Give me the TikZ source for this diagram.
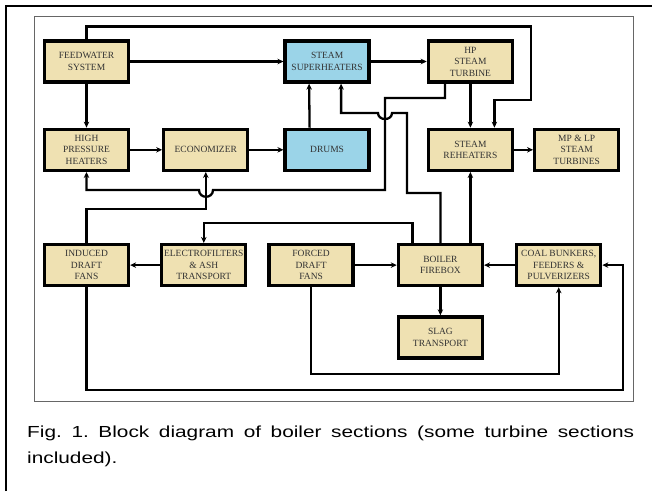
\documentclass[tikz,border=0pt]{standalone}
\usepackage{fontspec}
\usepackage{xcolor}
\usepackage{tikz}
\usetikzlibrary{arrows.meta,positioning}
\newfontfamily\boxfont{Liberation Serif}
\newfontfamily\capfont[FakeStretch=1.3]{Liberation Sans}
\definecolor{boxtan}{HTML}{EFE1B2}
\definecolor{boxblue}{HTML}{9BD4E8}
\tikzset{
  sbox/.style={draw=black, line width=3.3pt, fill=boxtan, align=center, text=black!80, font=\boxfont\fontsize{9.5}{11.5}\selectfont, inner sep=1pt, minimum height=41pt, minimum width=84pt},
  sboxb/.style={sbox, fill=boxblue},
  farr/.style={-{Stealth[length=6pt,width=5.5pt]}, line width=2.3pt}
}

\begin{document}
\frenchspacing
\begin{tikzpicture}[x=1pt, y=-1pt]
\useasboundingbox (0,0) rectangle (652,491);
\draw[line width=2pt] (6,491) -- (6,6) -- (652,6);
\draw[black!60, line width=0.8pt] (34,16) rectangle (633,401);

\node[sbox] (fw) at (86.5,61.5) {FEEDWATER\\SYSTEM};
\node[sbox, below=44pt of fw] (hph) {HIGH\\PRESSURE\\HEATERS};
\node[sbox, right=32pt of hph] (eco) {ECONOMIZER};
\node[sboxb, right=34pt of eco] (drum) {DRUMS};
\node[sbox, right=56pt of drum] (rh) {STEAM\\REHEATERS};
\node[sbox, right=19pt of rh] (mplp) {MP \& LP\\STEAM\\TURBINES};
\node[sboxb, above=44pt of drum] (sh) {STEAM\\SUPERHEATERS};
\node[sbox, above=44pt of rh] (hp) {HP\\STEAM\\TURBINE};
\node[sbox, below=71pt of hph] (idf) {INDUCED\\DRAFT\\FANS};
\node[sbox, right=30pt of idf] (ef) {ELECTROFILTERS\\\& ASH\\TRANSPORT};
\node[sbox, right=20pt of ef] (fdf) {FORCED\\DRAFT\\FANS};
\node[sbox, right=42pt of fdf] (bf) {BOILER\\FIREBOX};
\node[sbox, right=31pt of bf] (coal) {COAL BUNKERS,\\FEEDERS \&\\PULVERIZERS};
\node[sbox, below=28pt of bf] (slag) {SLAG\\TRANSPORT};

\coordinate (toprt) at (531,100);
\coordinate (bleed) at (385,98);
\coordinate (gasup) at (407,113);
\coordinate (botrt) at (623,390);

\draw[farr] (fw) -- (sh);
\draw[farr] (fw) -- (hph);
\draw[farr] (fw.north) -- ++(0,-13) -| (toprt) -| ([xshift=24pt]rh.north);
\draw[farr] (hph) -- (eco);
\draw[farr] (eco) -- (drum);
\draw[farr] ([xshift=-17.5pt]drum.north) -- ([xshift=-18pt]sh.south);
\draw[farr] (sh) -- (hp);
\draw[farr] (hp.south) -- (hp.south |- rh.north);
\draw[farr] (rh) -- (mplp);
\draw[farr] ([xshift=-25.5pt]hp.south) |- (bleed) -- (385,190) -- (213,190)
  .. controls (213,199) and (199,199) .. (199,190) -| (hph.south);
\draw[farr] (idf.north) -- ++(0,-34) -| (eco.south);
\draw[farr] (bf.north) -- ++(0,-50) -| (gasup) -- (392,113)
  .. controls (392,121) and (378,121) .. (378,113) -| ([xshift=14pt]sh.south);
\draw[farr] (rh.south |- bf.north) -- (rh.south);
\draw[farr] ([xshift=-28pt]bf.north) -- ++(0,-20) -| (ef.north);
\draw[farr] (ef.west) -- (ef.west -| idf.east);
\draw[farr] (fdf) -- (bf);
\draw[farr] (coal) -- (bf);
\draw[farr] (bf.south) -- (bf.south |- slag.north);
\draw[farr] (idf.south) |- (botrt) |- (coal.east);
\draw[farr] (fdf.south) -- ++(0,87) -| (coal.south);

\node[anchor=base west, text width=607pt, align=justify, inner sep=0pt,
  font=\capfont\fontsize{16}{26.5}\selectfont] (cap) at (27,437)
  {Fig. 1. Block diagram of boiler sections (some turbine sections\linebreak included).};
\end{tikzpicture}
\end{document}
